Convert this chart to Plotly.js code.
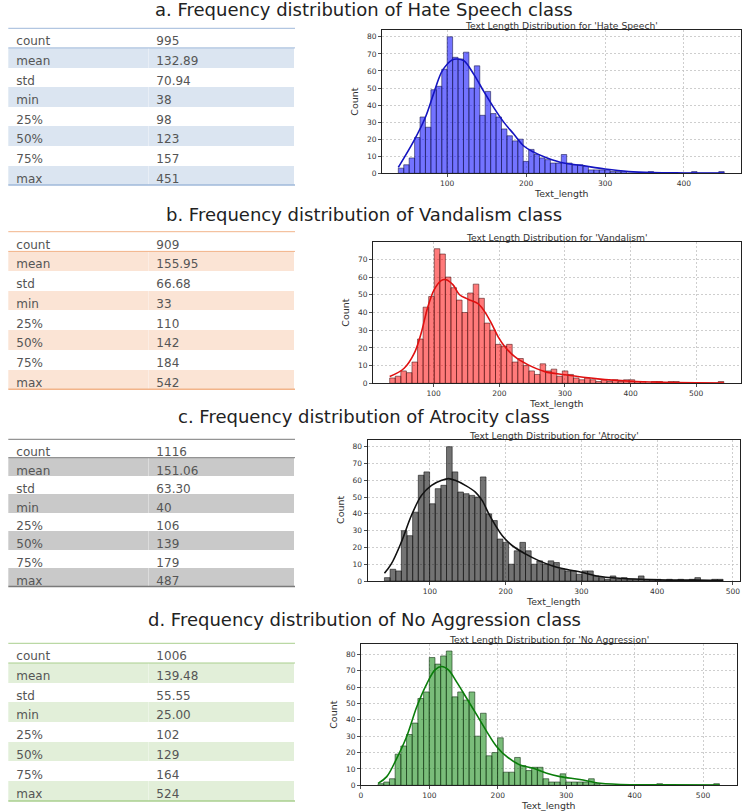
<!DOCTYPE html>
<html>
<head>
<meta charset="utf-8">
<script src="https://cdn.plot.ly/plotly-3.0.1.min.js"></script>
<style>
  html, body { margin: 0; padding: 0; background: #ffffff; }
  #chart { width: 744px; height: 812px; }
</style>
</head>
<body>
<div id="chart"></div>
<script>
// ---- Summary statistics (describe()) per class ----
const statNames   = ['count', 'mean', 'std', 'min', '25%', '50%', '75%', 'max'];
const hateStats   = ['995',  '132.89', '70.94', '38',    '98',  '123', '157', '451'];
const vandalStats = ['909',  '155.95', '66.68', '33',    '110', '142', '184', '542'];
const atrocStats  = ['1116', '151.06', '63.30', '40',    '106', '139', '179', '487'];
const noAggStats  = ['1006', '139.48', '55.55', '25.00', '102', '129', '164', '524'];

// ---- Histogram counts: 60 equal bins between min and max text length ----
const hateCounts = [
  3, 5, 9, 21, 33, 27, 49, 51, 61, 80,
  68, 67, 71, 50, 63, 34, 48, 35, 33, 26,
  22, 19, 20, 7, 14, 11, 9, 8, 6, 6,
  11, 6, 5, 5, 4, 2, 2, 2, 2, 1,
  1, 1, 0, 0, 0, 0, 1, 0, 0, 0,
  0, 0, 0, 0, 1, 0, 0, 0, 0, 1];
const vandalCounts = [
  3, 4, 7, 6, 12, 25, 43, 49, 76, 73,
  60, 54, 47, 40, 51, 56, 48, 34, 30, 22,
  21, 22, 12, 14, 10, 7, 5, 11, 7, 8,
  4, 7, 5, 3, 2, 3, 2, 1, 2, 1,
  2, 1, 2, 2, 1, 1, 0, 1, 1, 0,
  1, 1, 0, 0, 0, 0, 0, 0, 0, 1];
const atrocCounts = [
  2, 7, 6, 30, 27, 41, 63, 65, 46, 55,
  57, 80, 65, 53, 52, 51, 50, 62, 40, 36,
  25, 23, 10, 18, 23, 18, 10, 12, 10, 12,
  11, 7, 6, 6, 4, 6, 6, 3, 2, 1,
  3, 1, 2, 1, 1, 3, 1, 1, 1, 0,
  1, 0, 1, 0, 1, 2, 0, 0, 1, 1];
const noAggCounts = [
  1, 2, 4, 19, 24, 31, 38, 53, 57, 78,
  74, 79, 82, 54, 57, 52, 57, 30, 44, 18,
  20, 29, 8, 8, 17, 12, 9, 11, 11, 4,
  2, 2, 7, 2, 2, 2, 2, 4, 1, 0,
  0, 0, 0, 0, 0, 0, 0, 0, 0, 1,
  0, 0, 0, 0, 0, 0, 0, 0, 0, 1];

// ---- KDE curves (count scale) ----
const hateKdeX = [38, 57.7, 72.5, 83, 93.7, 106.3, 112.7, 121, 133.7, 146.3, 159, 171.6, 184.3, 197, 209.6, 226.6, 247.6, 268.7, 300, 330, 360, 400, 451];
const hateKdeY = [3.5, 19, 33, 47, 60, 66.5, 67, 66, 58, 48, 38.5, 30, 23, 16, 12.4, 9, 6, 4.7, 2.5, 1, 0.4, 0.2, 0.1];
const vandalKdeX = [33, 55, 70.5, 80.7, 91, 101, 111.3, 119, 129.2, 139.4, 152.2, 167.5, 177.6, 187.8, 198, 208.2, 223.5, 244, 269.4, 300, 350, 400, 450, 500, 542];
const vandalKdeY = [3.8, 8.5, 17, 28, 43, 53, 58, 58.5, 55.7, 50, 47.5, 45, 40.5, 34, 26.4, 20.8, 15, 10.4, 6.6, 4.8, 2.5, 1.2, 0.6, 0.3, 0.2];
const atrocKdeX = [40, 48.9, 62.2, 75.6, 88.9, 102.2, 115.6, 124.4, 133.3, 146.7, 160, 168.9, 177.8, 186.7, 195.6, 208.9, 226.7, 244.4, 262.2, 280, 300, 320, 350, 400, 450, 487];
const atrocKdeY = [4.6, 10, 23, 39, 51, 57, 60, 61, 60, 57, 53, 48, 40, 33, 27, 21, 16, 12, 9, 7, 5.2, 3, 1.6, 0.7, 0.5, 0.3];
const noAggKdeX = [25, 37.7, 52.3, 67, 81.6, 96.2, 108.3, 118.1, 127.8, 140, 154.7, 169.3, 183.9, 198.5, 213.2, 232.6, 252, 271.6, 291, 320, 350, 400, 450, 524];
const noAggKdeY = [1.2, 5.3, 16.5, 30, 48, 62, 70.5, 72.5, 70.5, 63, 53, 43, 32.8, 23.6, 17.5, 12.4, 10.4, 7.3, 5.3, 3.5, 1.2, 0.3, 0.3, 0.2];

const classNames = ['Hate Speech', 'Vandalism', 'Atrocity', 'No Aggression'];
const letters = ['a', 'b', 'c', 'd'];

// ---- Page geometry (pixels) and styling for each panel ----
const W = 744, H = 812;
const px = v => v / W;
const py = v => 1 - v / H;

const panels = [
  { stats: hateStats, counts: hateCounts, kx: hateKdeX, ky: hateKdeY,
    bar: 'rgba(0,0,255,0.55)', edge: 'rgba(20,20,70,0.7)', kde: '#1414c0',
    shade: '#dbe5f1', rule: '#9fb8da',
    plot: [382, 740.5, 30, 173.3], head: 9.5, table: [8.3, 295, 28.3, 19.6] },
  { stats: vandalStats, counts: vandalCounts, kx: vandalKdeX, ky: vandalKdeY,
    bar: 'rgba(255,0,0,0.52)', edge: 'rgba(70,20,20,0.7)', kde: '#e01010',
    shade: '#fbe4d5', rule: '#f2b48a',
    plot: [373, 740.5, 242, 383.3], head: 215, table: [8.3, 295, 231.7, 19.7] },
  { stats: atrocStats, counts: atrocCounts, kx: atrocKdeX, ky: atrocKdeY,
    bar: 'rgba(0,0,0,0.55)', edge: 'rgba(20,20,20,0.75)', kde: '#111111',
    shade: '#c9c9c9', rule: '#7a7a7a',
    plot: [367.5, 740, 440, 581], head: 417, table: [8.3, 295, 439.3, 18.4] },
  { stats: noAggStats, counts: noAggCounts, kx: noAggKdeX, ky: noAggKdeY,
    bar: 'rgba(0,128,0,0.52)', edge: 'rgba(20,50,20,0.75)', kde: '#0a7d0a',
    shade: '#e2efd9', rule: '#a9cf8e',
    plot: [361, 736.5, 644.3, 785.3], head: 619, table: [8.3, 295, 643.3, 19.7] }
];

const FONT = 'DejaVu Sans, Verdana, sans-serif';
const traces = [];
const layout = {
  width: W, height: H,
  margin: { l: 0, r: 0, t: 0, b: 0 },
  paper_bgcolor: '#ffffff', plot_bgcolor: '#ffffff',
  showlegend: false,
  annotations: [], shapes: []
};

panels.forEach((p, k) => {
  const s = k === 0 ? '' : String(k + 1);
  const xa = 'x' + s, ya = 'y' + s;
  const lo = parseFloat(p.stats[3]), hi = parseFloat(p.stats[7]);
  const nb = p.counts.length;
  const bw = (hi - lo) / nb;
  const centers = p.counts.map((_, i) => lo + (i + 0.5) * bw);
  const pad = (hi - lo) * 0.05;
  const ymax = Math.max(...p.counts) * 1.05;
  const [x0, x1, y0, y1] = p.plot;

  // histogram bars
  traces.push({
    type: 'bar', x: centers, y: p.counts, width: bw,
    xaxis: xa, yaxis: ya,
    marker: { color: p.bar, line: { color: p.edge, width: 0.8 } },
    hoverinfo: 'skip'
  });
  // density curve
  traces.push({
    type: 'scatter', mode: 'lines', x: p.kx, y: p.ky,
    xaxis: xa, yaxis: ya,
    line: { color: p.kde, width: 1.6, shape: 'spline', smoothing: 1 },
    hoverinfo: 'skip'
  });

  const axCommon = {
    showgrid: true, gridcolor: '#c2c2c2', griddash: '2px,2px', gridwidth: 0.8,
    showline: true, mirror: true, linecolor: '#222', linewidth: 1,
    ticks: 'outside', ticklen: 3, tickwidth: 0.8, tickcolor: '#222',
    tickfont: { family: FONT, size: 7.5, color: '#333' },
    zeroline: false, fixedrange: true
  };
  layout['xaxis' + s] = Object.assign({}, axCommon, {
    domain: [px(x0), px(x1)], anchor: ya,
    range: [lo - pad, hi + pad], tick0: 0, dtick: 100
  });
  layout['yaxis' + s] = Object.assign({}, axCommon, {
    domain: [py(y1), py(y0)], anchor: xa,
    range: [0, ymax], tick0: 0, dtick: 10
  });

  // section heading
  layout.annotations.push({
    xref: 'paper', yref: 'paper', x: px(364), y: py(p.head),
    xanchor: 'center', yanchor: 'middle', showarrow: false,
    text: letters[k] + '. Frequency distribution of ' + classNames[k] + ' class',
    font: { family: FONT, size: 18, color: '#222' }
  });
  // plot title and axis titles
  layout.annotations.push({
    xref: 'paper', yref: 'paper', x: px((x0 + x1) / 2), y: py(y0 - 4.5),
    xanchor: 'center', yanchor: 'middle', showarrow: false,
    text: "Text Length Distribution for '" + classNames[k] + "'",
    font: { family: FONT, size: 9.2, color: '#333' }
  });
  layout.annotations.push({
    xref: 'paper', yref: 'paper', x: px((x0 + x1) / 2), y: py(y1 + 20),
    xanchor: 'center', yanchor: 'middle', showarrow: false,
    text: 'Text_length',
    font: { family: FONT, size: 9.4, color: '#333' }
  });
  layout.annotations.push({
    xref: 'paper', yref: 'paper', x: px(x0 - 27), y: py((y0 + y1) / 2),
    xanchor: 'center', yanchor: 'middle', showarrow: false, textangle: -90,
    text: 'Count',
    font: { family: FONT, size: 9.5, color: '#333' }
  });

  // statistics table
  const [tx0, tx1, ty0, rh] = p.table;
  const rowFill = statNames.slice(1).map((_, i) => (i % 2 === 0 ? p.shade : '#ffffff'));
  const tfont = { family: FONT, size: 12, color: '#555' };
  traces.push({
    type: 'table',
    domain: { x: [px(tx0), px(tx1)], y: [py(ty0 + 8 * rh + 3), py(ty0)] },
    columnwidth: [140.4, 146.3],
    header: {
      values: [statNames[0], p.stats[0]], height: rh, align: 'left',
      fill: { color: '#ffffff' }, line: { width: 0, color: '#ffffff' }, font: tfont
    },
    cells: {
      values: [statNames.slice(1), p.stats.slice(1)], height: rh, align: 'left',
      fill: { color: [rowFill, rowFill] }, line: { width: 0, color: '#ffffff' }, font: tfont
    }
  });
  [ty0, ty0 + rh, ty0 + 8 * rh].forEach((yy, j) => {
    layout.shapes.push({
      type: 'line', xref: 'paper', yref: 'paper',
      x0: px(tx0), x1: px(tx1), y0: py(yy), y1: py(yy),
      line: { color: p.rule, width: j === 2 ? 1.5 : 1 }
    });
  });
});

Plotly.newPlot('chart', traces, layout, { displayModeBar: false, staticPlot: true });
</script>
</body>
</html>
